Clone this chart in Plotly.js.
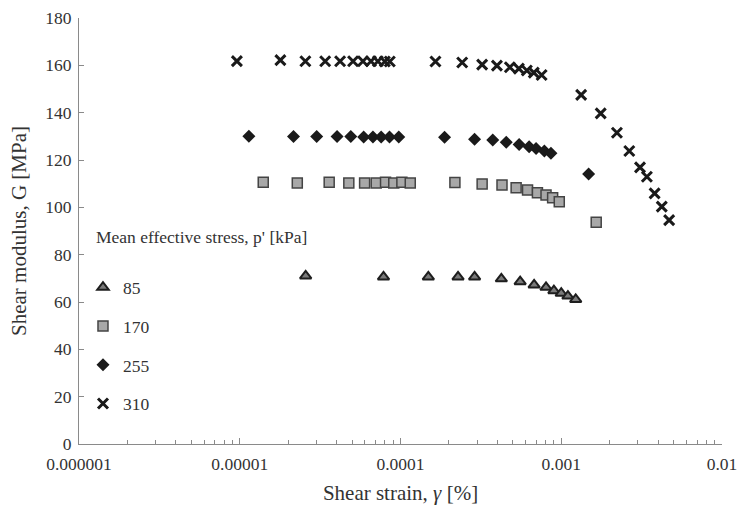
<!DOCTYPE html>
<html>
<head>
<meta charset="utf-8">
<script src="https://cdn.plot.ly/plotly-3.0.1.min.js"></script>
<style>html,body{margin:0;padding:0;background:#fff;}#chart{width:737px;height:505px;}</style>
</head>
<body>
<div id="chart"></div>
<script>
// p' = 85 kPa
const strain85 = [2.57e-5, 7.84e-5, 1.49e-4, 2.28e-4, 2.89e-4, 4.24e-4, 5.55e-4, 6.78e-4, 8.04e-4, 9.00e-4, 1.00e-3, 1.10e-3, 1.23e-3];
const G85 = [71.0, 70.6, 70.6, 70.6, 70.6, 69.8, 68.6, 67.2, 66.2, 64.8, 63.7, 62.5, 61.1];
// p' = 170 kPa
const strain170 = [1.40e-5, 2.28e-5, 3.60e-5, 4.77e-5, 5.98e-5, 7.06e-5, 8.07e-5, 9.08e-5, 1.02e-4, 1.15e-4, 2.18e-4, 3.22e-4, 4.28e-4, 5.24e-4, 6.17e-4, 7.11e-4, 8.04e-4, 8.84e-4, 9.72e-4, 1.65e-3];
const G170 = [110.6, 110.3, 110.6, 110.3, 110.3, 110.3, 110.6, 110.3, 110.6, 110.3, 110.5, 109.9, 109.4, 108.3, 107.3, 106.2, 105.2, 104.1, 102.4, 93.7];
// p' = 255 kPa
const strain255 = [1.14e-5, 2.16e-5, 3.01e-5, 4.03e-5, 4.91e-5, 5.90e-5, 6.74e-5, 7.58e-5, 8.54e-5, 9.75e-5, 1.88e-4, 2.89e-4, 3.75e-4, 4.55e-4, 5.47e-4, 6.31e-4, 6.97e-4, 7.85e-4, 8.63e-4, 1.48e-3];
const G255 = [130.0, 129.9, 129.9, 129.9, 129.9, 129.7, 129.7, 129.7, 129.7, 129.7, 129.6, 128.8, 128.4, 127.5, 126.6, 125.6, 124.9, 123.8, 122.8, 114.1];
// p' = 310 kPa
const strain310 = [9.6e-6, 1.79e-5, 2.56e-5, 3.40e-5, 4.21e-5, 5.07e-5, 5.84e-5, 6.55e-5, 7.23e-5, 7.99e-5, 8.58e-5, 1.65e-4, 2.42e-4, 3.22e-4, 3.98e-4, 4.79e-4, 5.45e-4, 6.11e-4, 6.75e-4, 7.55e-4, 1.33e-3, 1.76e-3, 2.22e-3, 2.65e-3, 3.09e-3, 3.41e-3, 3.81e-3, 4.22e-3, 4.69e-3];
const G310 = [161.8, 162.2, 161.7, 161.7, 161.7, 161.7, 161.7, 161.7, 161.7, 161.6, 161.6, 161.6, 161.2, 160.3, 159.9, 159.2, 158.6, 157.8, 156.9, 155.9, 147.5, 139.7, 131.5, 123.8, 116.9, 112.9, 105.9, 100.3, 94.6];

const seriesNames = ['85', '170', '255', '310'];
const xTickVals = [1e-6, 1e-5, 1e-4, 1e-3, 1e-2];
const xTickText = ['0.000001', '0.00001', '0.0001', '0.001', '0.01'];
const legendTitle = "Mean effective stress, p' [kPa]";

const font = 'Liberation Serif, Times New Roman, serif';
const txt = '#333';

const traces = [
  {x: strain85, y: G85, name: seriesNames[0], legendgroup: 'a', type: 'scatter', mode: 'markers',
   marker: {symbol: 'triangle-up', size: 10, color: '#7a7a7a', line: {color: '#1e1e1e', width: 2}}},
  {x: strain170, y: G170, name: seriesNames[1], legendgroup: 'b', type: 'scatter', mode: 'markers',
   marker: {symbol: 'square', size: 10, color: '#a8a8a8', line: {color: '#444', width: 1.5}}},
  {x: strain255, y: G255, name: seriesNames[2], legendgroup: 'c', type: 'scatter', mode: 'markers',
   marker: {symbol: 'diamond', size: 10, color: '#1a1a1a', line: {width: 0}}},
  {x: strain310, y: G310, name: seriesNames[3], legendgroup: 'd', type: 'scatter', mode: 'markers',
   marker: {symbol: 'x-thin', size: 10, color: '#1a1a1a', line: {color: '#1a1a1a', width: 3}}}
];

const layout = {
  width: 737, height: 505,
  margin: {l: 79, r: 15, t: 18, b: 61},
  paper_bgcolor: '#fff', plot_bgcolor: '#fff',
  font: {family: font, size: 17.5, color: txt},
  showlegend: true,
  legend: {x: 0.0062, y: 0.41, xanchor: 'left', yanchor: 'top', traceorder: 'grouped',
           tracegroupgap: 13, font: {family: font, size: 17.5, color: txt},
           bgcolor: 'rgba(0,0,0,0)', itemwidth: 30},
  xaxis: {type: 'log', range: [-6, -2], tickmode: 'array', tickvals: xTickVals, ticktext: xTickText,
          showgrid: false, zeroline: false, showline: true, linecolor: '#8a8a8a', linewidth: 1,
          ticks: 'inside', ticklen: 6, tickcolor: '#8a8a8a', ticklabeloverflow: 'allow',
          ticklabelstandoff: 4,
          minor: {ticks: 'inside', ticklen: 4, tickcolor: '#8a8a8a', dtick: 'D1', showgrid: false},
          tickfont: {family: font, size: 17.5, color: txt},
          title: {text: 'Shear strain, <i>γ</i> [%]', font: {family: font, size: 21, color: txt}, standoff: 13}},
  yaxis: {range: [0, 180], dtick: 20, showgrid: false, zeroline: false, showline: true,
          linecolor: '#8a8a8a', linewidth: 1, ticks: 'inside', ticklen: 5, tickcolor: '#8a8a8a',
          ticklabelstandoff: 3,
          tickfont: {family: font, size: 17.5, color: txt},
          title: {text: 'Shear modulus, G [MPa]', font: {family: font, size: 21, color: txt}, standoff: 12}},
  annotations: [{xref: 'paper', yref: 'paper', x: 0.023, y: 0.486, xanchor: 'left', yanchor: 'middle',
                 text: legendTitle, showarrow: false, font: {family: font, size: 17.5, color: txt}}]
};

Plotly.newPlot('chart', traces, layout, {displayModeBar: false, staticPlot: true});
</script>
</body>
</html>
